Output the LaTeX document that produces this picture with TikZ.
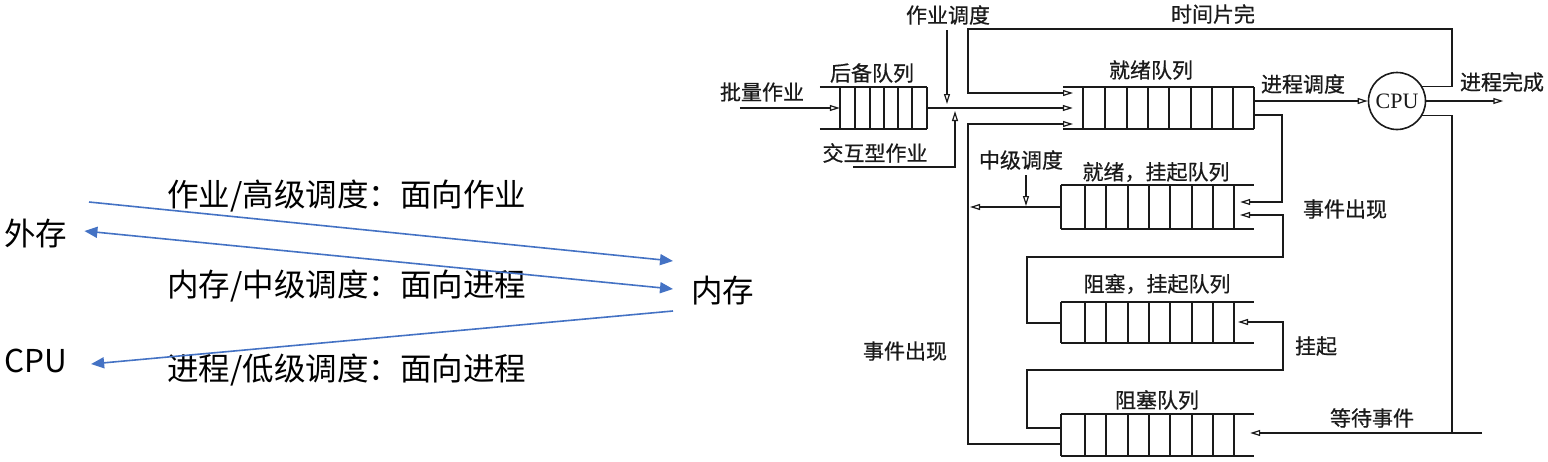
\documentclass[tikz,border=0pt]{standalone}
\usepackage{fontspec}
\setmainfont{Liberation Serif}
\newfontfamily\cjk{Noto Sans CJK SC}
\newfontfamily\cjkscan{Noto Sans CJK SC}[FakeBold=0.6]
\usetikzlibrary{arrows.meta,calc}
\definecolor{offblue}{HTML}{4472C4}
\definecolor{ink}{HTML}{1A1A1A}
\begin{document}
\begin{tikzpicture}[x=1pt,y=-1pt,
  big/.style={font=\cjk\fontsize{31.5}{36}\selectfont, inner sep=0pt, text=black},
  lbl/.style={font=\cjkscan\fontsize{21}{24}\selectfont, inner sep=0pt, text=ink},
  barrow/.style={draw=offblue, line width=1.6pt, -{Triangle[length=13pt,width=11pt]}},
  conn/.style={draw=ink, line width=1.4pt},
  arr/.style={conn, -{Triangle[open,length=10pt,width=6pt,line width=1.2pt]}},
  qline/.style={draw=ink, line width=1.9pt},
  qnode/.style={draw=none, inner sep=0pt, minimum width=#1},
  qnode/.default=193pt
]
\useasboundingbox (0,0) rectangle (1548,461);
\fill[white] (0,0) rectangle (1548,461);

% ---------------- left part ----------------
\node[big, anchor=west] (ext) at (4,233) {外存};
\node[big, anchor=west] (cpuL) at (4,361) {CPU};
\node[big, anchor=west] (mem) at (691,291) {内存};
\node[big, anchor=west] (t1) at (167,196) {作业/高级调度：面向作业};
\node[big, anchor=west] (t2) at (167,286) {内存/中级调度：面向进程};
\node[big, anchor=west] (t3) at (167,370) {进程/低级调度：面向进程};

\draw[barrow] (89,202) -- ($(mem.west)+(-18,-30)$);
\draw[barrow, {Triangle[length=13pt,width=11pt]}-{Triangle[length=13pt,width=11pt]}]
  ($(ext.east)+(17,-2)$) -- ($(mem.west)+(-18,-2)$);
\draw[barrow] ($(mem.west)+(-18,20)$) -- ($(cpuL.east)+(24,3)$);

% ---------------- right part: queues ----------------
\node[qnode=107pt, minimum height=42pt] (bq) at (873.5,108) {};
\draw[qline] (bq.north west) -- (bq.north east) (bq.south west) -- (bq.south east);
\foreach \x in {840,855,870,884,898,912,927} \draw[qline] (\x,87) -- (\x,129);

\node[qnode=191pt, minimum height=42pt] (rq) at (1158.5,108) {};
\draw[qline] (rq.north west) -- (rq.north east) (rq.south west) -- (rq.south east);
\foreach \x in {1083,1105,1127,1148,1169,1191,1212,1233,1254} \draw[qline] (\x,87) -- (\x,129);

\node[qnode, minimum height=44pt] (rsq) at (1157.5,207) {};
\draw[qline] (rsq.north west) -- (rsq.north east) (rsq.south west) -- (rsq.south east);
\foreach \x in {1061,1085,1106,1128,1149,1170,1192,1213,1234} \draw[qline] (\x,185) -- (\x,229);

\node[qnode, minimum height=41pt] (bsq) at (1157.5,322.5) {};
\draw[qline] (bsq.north west) -- (bsq.north east) (bsq.south west) -- (bsq.south east);
\foreach \x in {1061,1085,1106,1128,1149,1170,1192,1213,1234} \draw[qline] (\x,302) -- (\x,343);

\node[qnode, minimum height=42pt] (blq) at (1157.5,435) {};
\draw[qline] (blq.north west) -- (blq.north east) (blq.south west) -- (blq.south east);
\foreach \x in {1061,1085,1106,1128,1149,1170,1192,1213,1234} \draw[qline] (\x,414) -- (\x,456);

\node[circle, draw=ink, line width=1.6pt, minimum size=57pt, inner sep=0pt,
      font=\fontsize{22}{24}\selectfont, text=ink] (cpu) at (1397,101) {CPU};

% ---------------- connectors ----------------
\draw[arr] ($(bq.west)+(-80,0)$) -- ($(bq.west)+(20,0)$);
\draw[arr] (bq.east) -- ($(rq.west)+(10,0)$);
\draw[arr] (947,30) -- (947,104);
\draw[arr] (853,167) -- (955,167) -- (955,111);
\draw[arr] (cpu.30) -| (1452,29) -| (968,93) -- (1073,93);
\draw[arr] ($(rq.east)+(0,-7)$) -- (cpu.west);
\draw[arr] (cpu.east) -- ++(77,0);
\draw[conn] (cpu.-30) -| (1452,433);
\draw[arr] (1482,433) -- ($(blq.east)+(-4,-2)$);
\draw[arr] ($(rq.east)+(0,7)$) -| (1282,202) -- ($(rsq.east)+(-14,-5)$);
\draw[arr] ($(bsq.west)+(0,0.5)$) -| (1027,257) -| (1283,215) -- (1240,215);
\draw[arr] ($(blq.west)+(0,-7)$) -| (1027,370) -| (1283,322) -- (1238,322);
\draw[arr] ($(blq.west)+(0,9)$) -| (968,124) -- (1073,124);
\draw[arr] (rsq.west) -- (970,207);
\draw[arr] (1026,175) -- (1026,206);

% ---------------- labels ----------------
\node[lbl] (l1) at (948,15) {作业调度};
\node[lbl] (l2) at (872,73) {后备队列};
\node[lbl] (l3) at (762,92) {批量作业};
\node[lbl] (l4) at (875,153) {交互型作业};
\node[lbl] (l5) at (1213,14) {时间片完};
\node[lbl] (l6) at (1151,70) {就绪队列};
\node[lbl] (l7) at (1303,84) {进程调度};
\node[lbl] (l8) at (1502,82) {进程完成};
\node[lbl] (l9) at (1021,160) {中级调度};
\node[lbl] (l10) at (1156,172) {就绪，挂起队列};
\node[lbl] (l11) at (1345,209) {事件出现};
\node[lbl] (l12) at (1157,284) {阻塞，挂起队列};
\node[lbl] (l13) at (1316,346) {挂起};
\node[lbl] (l14) at (905,351) {事件出现};
\node[lbl] (l15) at (1157,400) {阻塞队列};
\node[lbl] (l16) at (1372,418) {等待事件};
\end{tikzpicture}
\end{document}
